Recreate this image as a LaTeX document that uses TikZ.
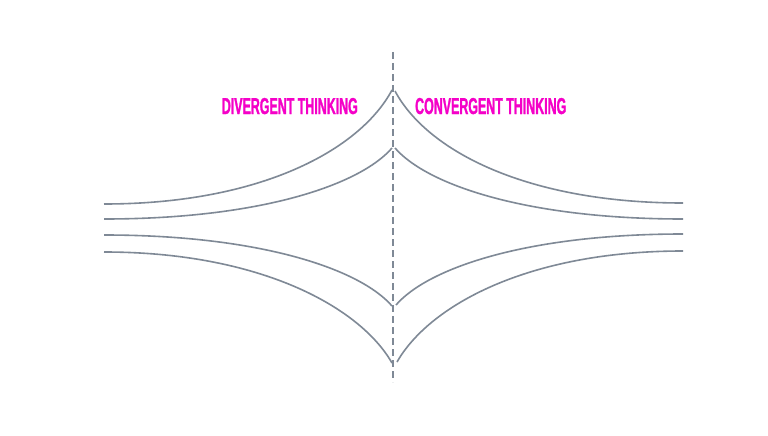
\documentclass[tikz,border=0pt]{standalone}
\usepackage{fontspec}
\usepackage{xcolor}
\usepackage{tikz}
\usetikzlibrary{positioning, calc}
\newfontfamily\thinkfont[FakeStretch=0.54,FakeBold=1.2]{Liberation Sans}
\definecolor{thinkpink}{RGB}{245,0,200}
\definecolor{flowgray}{RGB}{127,137,150}

\begin{document}
\begin{tikzpicture}[
        x=1pt, y=-1pt,
        flow/.style={draw=flowgray, line width=1.6pt},
        axis/.style={draw=flowgray, line width=1.6pt, dash pattern=on 7pt off 4pt},
        label/.style={text=thinkpink, font=\thinkfont\bfseries\fontsize{23}{23}\selectfont, inner sep=0pt},
    ]
    \useasboundingbox[fill=white] (0,0) rectangle (768,436);

    % Centre line
    \coordinate (top) at (393,52);
    \coordinate (bot) at (393,382);
    \draw[axis] (top) -- (bot);

    % Labels
    \node[label, anchor=base east] (div) at (358,114) {DIVERGENT THINKING};
    \node[label, anchor=base west] (conv) at (415,114) {CONVERGENT THINKING};

    % Left side: diverging
    \coordinate (l1) at (104,204);
    \coordinate (l2) at (104,219);
    \coordinate (l3) at (104,235);
    \coordinate (l4) at (104,252);
    \coordinate (a1) at (392,90);
    \coordinate (a2) at (392,148);
    \coordinate (a3) at (392,306);
    \coordinate (a4) at (392,363);
    \draw[flow] (l1) .. controls (260,204) and (360,150) .. (a1);
    \draw[flow] (l2) .. controls (260,219) and (360,185) .. (a2);
    \draw[flow] (l3) .. controls (260,235) and (360,269) .. (a3);
    \draw[flow] (l4) .. controls (260,252) and (360,307) .. (a4);

    % Right side: converging
    \coordinate (b1) at (395,91);
    \coordinate (b2) at (395,148);
    \coordinate (b3) at (396,305);
    \coordinate (b4) at (397,362);
    \coordinate (r1) at (683,203);
    \coordinate (r2) at (683,219);
    \coordinate (r3) at (683,234);
    \coordinate (r4) at (683,251);
    \draw[flow] (b1) .. controls (427,151) and (527,203) .. (r1);
    \draw[flow] (b2) .. controls (427,185) and (527,219) .. (r2);
    \draw[flow] (b3) .. controls (428,268) and (527,234) .. (r3);
    \draw[flow] (b4) .. controls (429,306) and (527,251) .. (r4);
\end{tikzpicture}
\end{document}
